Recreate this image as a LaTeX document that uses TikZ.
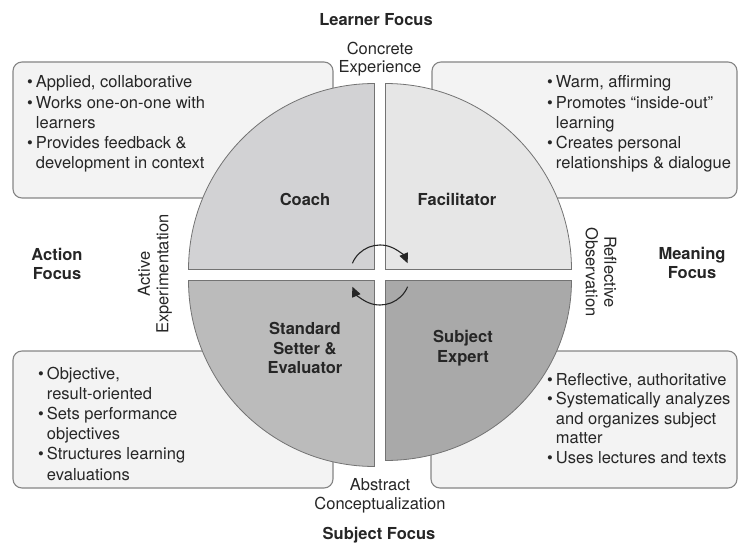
\documentclass[tikz,border=0pt]{standalone}
\usepackage{fontspec}
\setmainfont{TeX Gyre Heros}
\usetikzlibrary{positioning,fit,arrows.meta}

\definecolor{boxfill}{HTML}{F3F3F3}
\definecolor{boxline}{HTML}{858585}
\definecolor{coachgray}{HTML}{D2D2D4}
\definecolor{facilgray}{HTML}{E6E6E6}
\definecolor{settergray}{HTML}{BBBBBB}
\definecolor{expertgray}{HTML}{A9A9A9}
\definecolor{inkgray}{HTML}{262626}

\begin{document}
\begin{tikzpicture}[
  x=1pt, y=-1pt,
  infobox/.style={
    rectangle,
    rounded corners=9pt,
    draw=boxline,
    line width=1.1pt,
    fill=boxfill,
    inner sep=0pt
  },
  quadblock/.style={
    draw=black!55,
    line width=0.8pt
  },
  bulletlist/.style={
    anchor=base west,
    inner sep=0pt,
    text=inkgray,
    font=\fontsize{16.5}{20.2}\selectfont
  },
  rolelabel/.style={
    align=center,
    inner sep=0pt,
    text=inkgray,
    font=\bfseries\fontsize{16.5}{19.5}\selectfont
  },
  focuslabel/.style={
    align=center,
    inner sep=0pt,
    text=inkgray,
    font=\bfseries\fontsize{16.5}{18.5}\selectfont
  },
  stagelabel/.style={
    align=center,
    inner sep=0pt,
    text=inkgray,
    font=\fontsize{16.5}{18.5}\selectfont
  },
  turnarrow/.style={
    line width=1.1pt,
    draw=inkgray,
    -{Triangle[length=10pt,width=9pt]}
  }]
  \useasboundingbox (0,0) rectangle (739,545);
  % boxes behind the circle
  \node [infobox, fit={(13,62) (333,198)}] (coachbox) {};
  \node [infobox, fit={(432,62) (737,198)}] (facilbox) {};
  \node [infobox, fit={(13,351) (333,488)}] (setterbox) {};
  \node [infobox, fit={(431,351) (737,488)}] (expertbox) {};
  % quadrants
  \filldraw [quadblock, fill=coachgray] (374.5,269.5) -- ++(-186,0)
    arc [start angle=180, end angle=270, radius=186] -- cycle;
  \filldraw [quadblock, fill=facilgray] (385.5,269.5) -- ++(186,0)
    arc [start angle=0, end angle=-90, radius=186] -- cycle;
  \filldraw [quadblock, fill=settergray] (374.5,280.5) -- ++(-186,0)
    arc [start angle=180, end angle=90, radius=186] -- cycle;
  \filldraw [quadblock, fill=expertgray] (385.5,280.5) -- ++(186,0)
    arc [start angle=0, end angle=90, x radius=186, y radius=180] -- cycle;
  % turning arrows
  \coordinate (hub) at (380,275);
  \coordinate (turnA) at ([shift={(203:30)}]hub);
  \coordinate (turnB) at ([shift={(23:30)}]hub);
  \draw [turnarrow] (turnA) arc [start angle=203, end angle=337, radius=30];
  \draw [turnarrow] (turnB) arc [start angle=23, end angle=157, radius=30];
  % roles
  \node [rolelabel] (coach) at (305,199) {Coach};
  \node [rolelabel] (facilitator) at (457,199) {Facilitator};
  \node [rolelabel] (setter) at (305,348) {Standard\\Setter \&\\Evaluator};
  \node [rolelabel] (expert) at (463,348) {Subject\\Expert};
  % stages
  \node [stagelabel] (concrete) at (380,59) {Concrete\\Experience};
  \node [stagelabel] (abstract) at (380,496) {Abstract\\Conceptualization};
  \node [stagelabel, rotate=90] (active) at (155,274) {Active\\Experimentation};
  \node [stagelabel, rotate=-90] (reflective) at (601,272) {Reflective\\Observation};
  % focus
  \node [focuslabel] (learner) at (376,20) {Learner Focus};
  \node [focuslabel] (subject) at (379,535) {Subject Focus};
  \node [focuslabel] (action) at (57,264) {Action\\Focus};
  \node [focuslabel] (meaning) at (692,263) {Meaning\\Focus};
  % lists
  \node [bulletlist] (coachlist) at (27,88) {\begin{tabular}[t]{@{}l@{\hspace{3pt}}l@{}}
    \textbullet & Applied, collaborative\\
    \textbullet & Works one-on-one with\\
                & learners\\
    \textbullet & Provides feedback \&\\
                & development in context
  \end{tabular}};
  \node [bulletlist] (faciliist) at (547,88) {\begin{tabular}[t]{@{}l@{\hspace{3pt}}l@{}}
    \textbullet & Warm, affirming\\
    \textbullet & Promotes “inside-out”\\
                & learning\\
    \textbullet & Creates personal\\
                & relationships \& dialogue
  \end{tabular}};
  \node [bulletlist] (setterlist) at (38,379) {\begin{tabular}[t]{@{}l@{\hspace{3pt}}l@{}}
    \textbullet & Objective,\\
                & result-oriented\\
    \textbullet & Sets performance\\
                & objectives\\
    \textbullet & Structures learning\\
                & evaluations
  \end{tabular}};
  \node [bulletlist, font=\fontsize{16.5}{19.5}\selectfont] (expertlist) at (547,385) {\begin{tabular}[t]{@{}l@{\hspace{3pt}}l@{}}
    \textbullet & Reflective, authoritative\\
    \textbullet & Systematically analyzes\\
                & and organizes subject\\
                & matter\\
    \textbullet & Uses lectures and texts
  \end{tabular}};
\end{tikzpicture}
\end{document}
